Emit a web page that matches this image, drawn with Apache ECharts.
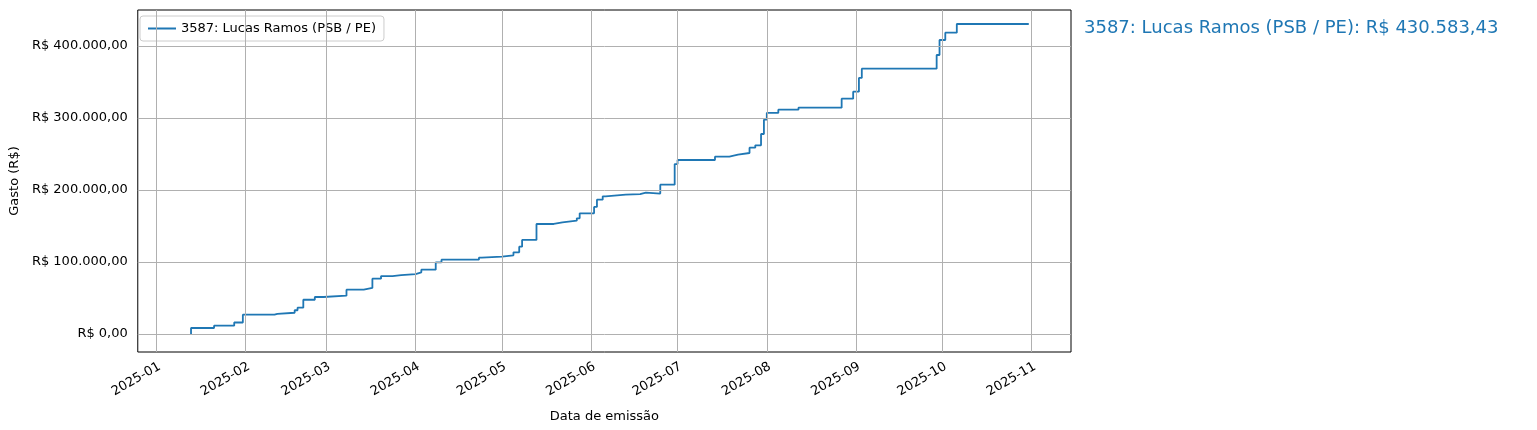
<!DOCTYPE html>
<html><head><meta charset="utf-8">
<script src="https://cdn.jsdelivr.net/npm/echarts@6/dist/echarts.min.js"></script>
<style>html,body{margin:0;padding:0;background:#fff}#c{width:1537px;height:430px}</style>
</head><body><div id="c"></div>
<script>
const seriesName = '3587: Lucas Ramos (PSB / PE)';
const totalLabel = '3587: Lucas Ramos (PSB / PE): R$ 430.583,43';
const dates = ['2025-01-13','2025-01-13','2025-01-21','2025-01-28','2025-01-31','2025-02-11','2025-02-12','2025-02-18','2025-02-19','2025-02-21','2025-02-25','2025-02-28','2025-03-08','2025-03-14','2025-03-17','2025-03-20','2025-03-24','2025-03-27','2025-04-01','2025-04-03','2025-04-08','2025-04-10','2025-04-23','2025-04-24','2025-05-01','2025-05-05','2025-05-07','2025-05-08','2025-05-13','2025-05-19','2025-05-22','2025-05-27','2025-05-28','2025-06-02','2025-06-03','2025-06-05','2025-06-06','2025-06-13','2025-06-18','2025-06-20','2025-06-25','2025-06-30','2025-07-01','2025-07-14','2025-07-19','2025-07-22','2025-07-26','2025-07-28','2025-07-30','2025-07-31','2025-08-01','2025-08-05','2025-08-12','2025-08-27','2025-08-31','2025-09-02','2025-09-03','2025-09-29','2025-09-30','2025-10-02','2025-10-06','2025-10-31'];
const values = [0,8300,11500,16000,26800,28000,29500,33000,36500,47600,51400,53200,61500,63900,76800,80500,81900,83300,85600,89300,99500,103200,106000,107400,109300,113400,121300,130600,152800,155000,157400,160600,167600,176500,186500,191200,193500,194400,196300,195000,207400,236000,241700,246300,249000,251400,258800,262000,277800,297700,307000,311500,314300,326800,336600,355600,368500,387500,408300,418500,430583.43,430583.43];
const yTicks = [0,100000,200000,300000,400000];
const monthTicks = ['2025-01-01','2025-02-01','2025-03-01','2025-04-01','2025-05-01','2025-06-01','2025-07-01','2025-08-01','2025-09-01','2025-10-01','2025-11-01'];

function brl(v){
  const s = Math.round(v).toString().replace(/\B(?=(\d{3})+(?!\d))/g,'.');
  return 'R$ ' + s + ',00';
}
const chart = echarts.init(document.getElementById('c'));
const font = 'DejaVu Sans';
chart.setOption({
  animation:false,
  textStyle:{fontFamily:font},
  grid:{left:128,right:466,top:10,bottom:78,show:true,borderColor:'#000',borderWidth:1,backgroundColor:'transparent'},
  title:{text:totalLabel,left:1079,top:14,textStyle:{color:'#1f77b4',fontSize:18,fontWeight:'normal',fontFamily:font}},
  legend:{left:140,top:16,padding:[6,8],backgroundColor:'#fff',borderColor:'#ccc',borderWidth:1,borderRadius:3,
    itemWidth:28,itemHeight:2,icon:'rect',textStyle:{fontSize:13,color:'#000'},data:[seriesName]},
  xAxis:{type:'time',min:'2024-12-25 12:00',max:'2025-11-14 16:00',
    name:'Data de emissão',nameLocation:'middle',nameGap:58,nameTextStyle:{fontSize:13,color:'#000'},
    axisLine:{show:false},axisTick:{show:false},splitLine:{show:false},axisLabel:{show:false}},
  yAxis:{type:'value',min:-25000,max:450000,interval:25000,
    name:'Gasto (R$)',nameLocation:'middle',nameGap:106,nameTextStyle:{fontSize:13,color:'#000'},
    axisLine:{show:false},axisTick:{show:false},splitLine:{show:false},
    axisLabel:{fontSize:13,color:'#000',margin:10,formatter:v=>(v>=0&&v%100000===0)?brl(v):''}},
  series:[
    {type:'line',name:'grid',silent:true,data:[],
     markLine:{symbol:'none',silent:true,label:{show:false},lineStyle:{color:'#b0b0b0',width:1,type:'solid'},
       data:[...yTicks.map(v=>({yAxis:v})),...monthTicks.map(d=>({xAxis:d}))]}},
    {type:'line',name:'ticks',silent:true,data:[],
     markLine:{symbol:'none',silent:true,lineStyle:{color:'#b0b0b0',width:0},
       label:{show:true,position:'start',distance:8,color:'#000',fontSize:13,rotate:30,align:'right',verticalAlign:'top',
         formatter:p=>echarts.time.format(p.value,'{yyyy}-{MM}',false)},
       data:monthTicks.map(d=>({xAxis:d}))}},
    {type:'line',name:seriesName,step:'end',showSymbol:false,symbol:'none',
     lineStyle:{color:'#1f77b4',width:1.8},itemStyle:{color:'#1f77b4'},
     data:dates.map((d,i)=>[d,values[i]])}
  ]
});
</script></body></html>
